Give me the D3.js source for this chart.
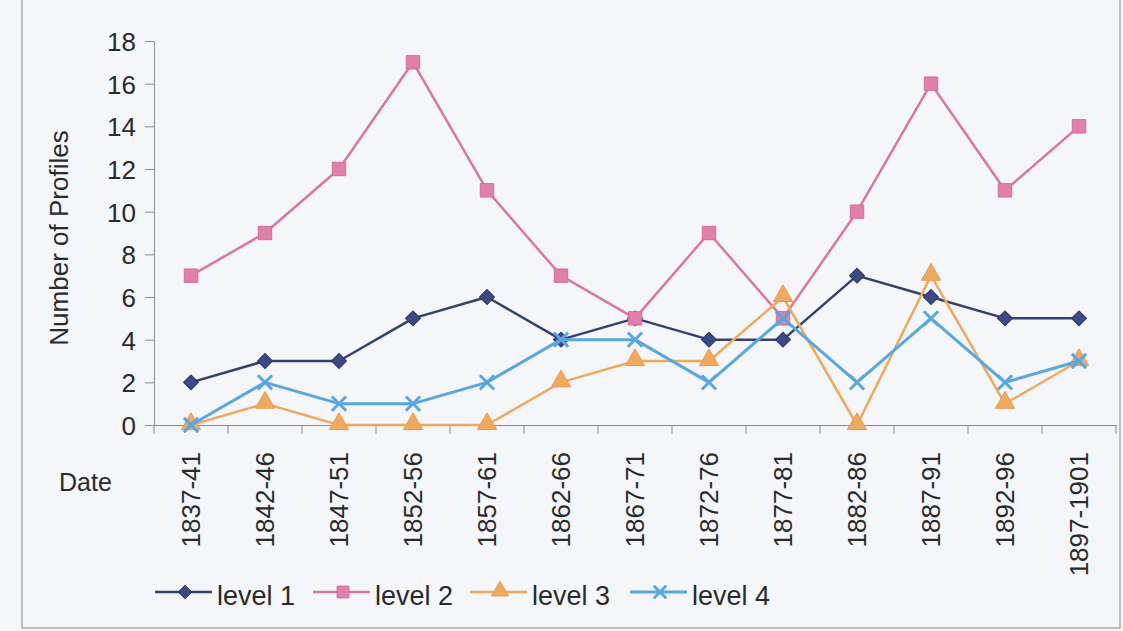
<!DOCTYPE html>
<html>
<head>
<meta charset="utf-8">
<script src="https://cdn.jsdelivr.net/npm/d3@7"></script>
<style>
  html, body { margin: 0; padding: 0; background: #f4f6fa; }
  svg { display: block; font-family: "Liberation Sans", Arial, sans-serif; }
  .axis path, .axis line { stroke: #8a8c90; }
  .axis text { fill: #2a2a2a; }
</style>
</head>
<body>
<svg id="chart"></svg>
<script>
// data
const periods = ["1837-41", "1842-46", "1847-51", "1852-56", "1857-61", "1862-66", "1867-71",
  "1872-76", "1877-81", "1882-86", "1887-91", "1892-96", "1897-1901"];
const level1 = [2, 3, 3, 5, 6, 4, 5, 4, 4, 7, 6, 5, 5];
const level2 = [7, 9, 12, 17, 11, 7, 5, 9, 5, 10, 16, 11, 14];
const level3 = [0, 1, 0, 0, 0, 2, 3, 3, 6, 0, 7, 1, 3];
const level4 = [0, 2, 1, 1, 2, 4, 4, 2, 5, 2, 5, 2, 3];
const seriesNames = ["level 1", "level 2", "level 3", "level 4"];
const yTicks = [0, 2, 4, 6, 8, 10, 12, 14, 16, 18];

const width = 1123, height = 631;

const series = [
  { name: seriesNames[0], values: level1, line: "#34406e", fill: "#3b4a86", shape: "diamond", lw: 2.5 },
  { name: seriesNames[1], values: level2, line: "#d9789f", fill: "#e07fa9", shape: "square", lw: 2.5 },
  { name: seriesNames[2], values: level3, line: "#efa95e", fill: "#f0aa60", shape: "triangle", lw: 2.5 },
  { name: seriesNames[3], values: level4, line: "#5aa6df", fill: "#5aa6df", shape: "x", lw: 3 }
];

const svg = d3.select("#chart").attr("width", width).attr("height", height);

// scanned frame
svg.append("rect")
  .attr("x", 22).attr("y", -2).attr("width", 1098).attr("height", 630)
  .attr("fill", "#f4f6fa").attr("stroke", "#9a9ca0").attr("stroke-width", 1.2);

const xScale = d3.scaleBand().domain(periods).range([154, 1116]).paddingInner(0).paddingOuter(0);
const yScale = d3.scaleLinear().domain([0, 18]).range([425, 41]);
const xc = d => xScale(d) + xScale.bandwidth() / 2;

// y axis
const yAxisG = svg.append("g").attr("class", "axis y-axis")
  .attr("transform", "translate(154,0)")
  .call(d3.axisLeft(yScale).tickValues(yTicks).tickSize(9).tickSizeOuter(0).tickPadding(9));
yAxisG.selectAll("text").attr("dy", "0.36em").attr("font-size", 26);

// x axis: labels rotated, ticks between categories
const xAxisG = svg.append("g").attr("class", "axis x-axis")
  .attr("transform", "translate(0,425)")
  .call(d3.axisBottom(xScale).tickSize(0).tickSizeOuter(0).tickPadding(0));
xAxisG.selectAll(".tick text")
  .attr("transform", "rotate(-90)")
  .attr("x", -27).attr("y", 0).attr("dy", "0.36em")
  .attr("font-size", 26)
  .style("text-anchor", "end");
const edges = periods.map(p => xScale(p)).concat([xScale.range()[1]]);
xAxisG.selectAll(".edge")
  .data(edges)
  .join("line")
  .attr("class", "edge")
  .attr("x1", d => d).attr("x2", d => d)
  .attr("y1", 0).attr("y2", 9);

// axis titles
svg.append("text")
  .attr("transform", `translate(68,238) rotate(-90)`)
  .attr("text-anchor", "middle")
  .attr("font-size", 26)
  .attr("fill", "#2a2a2a")
  .text("Number of Profiles");

svg.append("text")
  .attr("x", 59).attr("y", 491)
  .attr("font-size", 25)
  .attr("fill", "#2a2a2a")
  .text("Date");

// marker drawing
function drawMarker(g, s, size) {
  if (s.shape === "diamond") {
    g.append("path").attr("d", d3.symbol(d3.symbolSquare, size * 0.62))
      .attr("transform", "rotate(45)")
      .attr("fill", s.fill).attr("stroke", "#2c3560").attr("stroke-width", 1);
  } else if (s.shape === "square") {
    g.append("path").attr("d", d3.symbol(d3.symbolSquare, size))
      .attr("fill", s.fill).attr("stroke", "#d56e9a").attr("stroke-width", 1);
  } else if (s.shape === "triangle") {
    g.append("path").attr("d", d3.symbol(d3.symbolTriangle, size * 0.9))
      .attr("transform", "translate(0,-1)")
      .attr("fill", s.fill).attr("stroke", "#e89a4e").attr("stroke-width", 1);
  } else {
    g.append("path").attr("d", d3.symbol(d3.symbolX, size * 0.75))
      .attr("fill", "none").attr("stroke", s.fill).attr("stroke-width", 3);
  }
}

const line = d3.line().x(d => xc(d.p)).y(d => yScale(d.v));

series.forEach(s => {
  const pts = periods.map((p, i) => ({ p, v: s.values[i] }));
  const g = svg.append("g").attr("class", "series");
  g.append("path")
    .datum(pts)
    .attr("d", line)
    .attr("fill", "none")
    .attr("stroke", s.line)
    .attr("stroke-width", s.lw)
    .attr("stroke-linejoin", "round");
  g.selectAll(".pt")
    .data(pts)
    .join("g")
    .attr("class", "pt")
    .attr("transform", d => `translate(${xc(d.p)},${yScale(d.v)})`)
    .each(function () { drawMarker(d3.select(this), s, 180); });
});

// legend
const legendX = [155, 313, 470, 630];
const legendY = 592;
const legend = svg.append("g").attr("class", "legend");
series.forEach((s, i) => {
  const g = legend.append("g").attr("transform", `translate(${legendX[i]},${legendY})`);
  g.append("line").attr("x1", 0).attr("x2", 57).attr("y1", 0).attr("y2", 0)
    .attr("stroke", s.line).attr("stroke-width", s.lw);
  const m = g.append("g").attr("transform", "translate(30,0)");
  drawMarker(m, s, 140);
  g.append("text")
    .attr("x", 62).attr("y", 3).attr("dy", "0.36em")
    .attr("font-size", 27)
    .attr("fill", "#2a2a2a")
    .text(s.name);
});
</script>
</body>
</html>
